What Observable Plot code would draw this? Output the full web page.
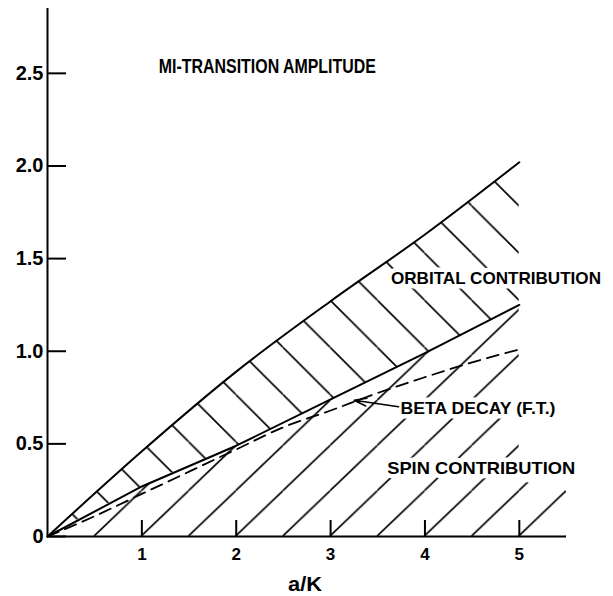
<!DOCTYPE html>
<html>
<head>
<meta charset="utf-8">
<script src="https://cdn.jsdelivr.net/npm/d3@7"></script>
<script src="https://cdn.jsdelivr.net/npm/@observablehq/plot@0.6"></script>
<style>
  html, body { margin: 0; padding: 0; background: #fff; }
</style>
</head>
<body>
<div id="chart"></div>
<script>
// ---- data ----
const upperX = [0, 1, 2, 3, 4, 5];
const upperY = [0, 0.46, 0.89, 1.27, 1.63, 2.02];          // total (orbital + spin) boundary
const middleX = [0, 1, 2, 3, 4, 5];
const middleY = [0, 0.27, 0.49, 0.74, 0.99, 1.25];          // spin contribution boundary
const betaX = [0, 0.5, 1, 1.5, 2, 2.5, 3, 3.5, 4, 4.5, 5];
const betaY = [0, 0.11, 0.23, 0.35, 0.47, 0.59, 0.68, 0.775, 0.86, 0.94, 1.01]; // beta decay (F.T.)
const spinTailX = [5, 5.5];                                  // where the spin hatching runs out past 5
const spinTailY = [0.30, 0.245];

const xTicks = [1, 2, 3, 4, 5];
const xTickLabels = ["1", "2", "3", "4", "5"];
const yTicks = [0, 0.5, 1, 1.5, 2, 2.5];
const yTickLabels = ["0", "0.5", "1.0", "1.5", "2.0", "2.5"];

const titleText = "MI-TRANSITION AMPLITUDE";
const xLabelText = "a/K";
const regionTexts = ["ORBITAL CONTRIBUTION", "BETA DECAY (F.T.)", "SPIN CONTRIBUTION"];
const regionX = [3.64, 3.74, 3.60];
const regionY = [1.39, 0.69, 0.367];
const arrowFrom = [3.72, 0.70];
const arrowTo = [3.25, 0.735];

// ---- tables built from the arrays ----
const upperRows = upperX.map((x, i) => ({x, y: upperY[i]}));
const middleRows = middleX.map((x, i) => ({x, y: middleY[i]}));
const betaRows = betaX.map((x, i) => ({x, y: betaY[i]}));
const orbitalRows = upperX.map((x, i) => ({x, lo: middleY[i], hi: upperY[i]}));
const spinRows = middleX.map((x, i) => ({x, lo: 0, hi: middleY[i]}))
  .concat(spinTailX.map((x, i) => ({x, lo: 0, hi: spinTailY[i]})));
const regionRows = regionTexts.map((t, i) => ({t, x: regionX[i], y: regionY[i]}));

// lettering widths in the reference (px), used to condense the glyphs
const textWidths = new Map([
  [titleText, 217],
  ["ORBITAL CONTRIBUTION", 210],
  ["BETA DECAY (F.T.)", 155],
  ["SPIN CONTRIBUTION", 188],
  [xLabelText, 34]
]);

const FONT = "'Liberation Sans', Arial, sans-serif";

const chart = Plot.plot({
  width: 613,
  height: 596,
  marginLeft: 47,
  marginRight: 47,
  marginTop: 8,
  marginBottom: 60,
  x: {domain: [0, 5.5]},
  y: {domain: [0, 2.85]},
  style: {fontFamily: FONT, fontWeight: "bold", color: "black", background: "white"},
  marks: [
    Plot.areaY(orbitalRows, {x: "x", y1: "lo", y2: "hi", fill: "url(#hatchOrbital)", curve: "monotone-x"}),
    Plot.areaY(spinRows, {x: "x", y1: "lo", y2: "hi", fill: "url(#hatchSpin)"}),
    Plot.line(upperRows, {x: "x", y: "y", stroke: "black", strokeWidth: 2, curve: "monotone-x"}),
    Plot.line(middleRows, {x: "x", y: "y", stroke: "black", strokeWidth: 2}),
    Plot.line(betaRows, {x: "x", y: "y", stroke: "black", strokeWidth: 1.8, strokeDasharray: "12,7", curve: "monotone-x"}),
    Plot.ruleX([0], {stroke: "black", strokeWidth: 2}),
    Plot.ruleY([0], {stroke: "black", strokeWidth: 2}),
    Plot.axisX(xTicks, {
      tickSize: -16, tickPadding: 27, strokeWidth: 2,
      tickFormat: d => xTickLabels[xTicks.indexOf(d)],
      fontSize: 17, label: null
    }),
    Plot.axisY(yTicks, {
      tickSize: -19, tickPadding: 23, strokeWidth: 2,
      tickFormat: d => yTickLabels[yTicks.indexOf(d)],
      fontSize: 20, label: null
    }),
    Plot.text(regionRows, {
      x: "x", y: "y", text: "t", textAnchor: "start",
      fontSize: 17, fill: "black", stroke: "white", strokeWidth: 9
    }),
    Plot.arrow([{x1: arrowFrom[0], y1: arrowFrom[1], x2: arrowTo[0], y2: arrowTo[1]}], {
      x1: "x1", y1: "y1", x2: "x2", y2: "y2", stroke: "black", strokeWidth: 1.6,
      headLength: 12, headAngle: 35
    }),
    Plot.text([titleText], {
      x: 1.18, y: 2.54, text: d => d, textAnchor: "start", fontSize: 21, fill: "black"
    }),
    Plot.text([xLabelText], {
      x: 2.73, frameAnchor: "bottom", dy: 54, text: d => d, fontSize: 20, fill: "black"
    })
  ]
});

// hatch patterns aligned with the chart's own scales
const xs = chart.scale("x"), ys = chart.scale("y");
const x0 = xs.apply(0), y0 = ys.apply(0);
const w = xs.apply(0.5) - xs.apply(0);
const hs = 0.96 * w;
const svg = d3.select(chart);
const defs = svg.insert("defs", ":first-child");
const po = defs.append("pattern")
  .attr("id", "hatchOrbital").attr("patternUnits", "userSpaceOnUse")
  .attr("x", x0).attr("y", y0).attr("width", w).attr("height", w);
po.append("path")
  .attr("d", `M0,0L${w},${w}M${w},0L${2 * w},${w}M${-w},0L0,${w}`)
  .attr("stroke", "black").attr("stroke-width", 1.6).attr("fill", "none");
const ps = defs.append("pattern")
  .attr("id", "hatchSpin").attr("patternUnits", "userSpaceOnUse")
  .attr("x", x0).attr("y", y0 - hs).attr("width", w).attr("height", hs);
ps.append("path")
  .attr("d", `M0,${hs}L${w},0M${-w},${hs}L0,0M${w},${hs}L${2 * w},0`)
  .attr("stroke", "black").attr("stroke-width", 1.6).attr("fill", "none");

// condense the hand lettering to the reference widths
svg.selectAll("text").each(function () {
  const t = this.textContent;
  if (textWidths.has(t)) {
    d3.select(this).attr("textLength", textWidths.get(t)).attr("lengthAdjust", "spacingAndGlyphs");
  }
});

document.getElementById("chart").append(chart);
</script>
</body>
</html>
